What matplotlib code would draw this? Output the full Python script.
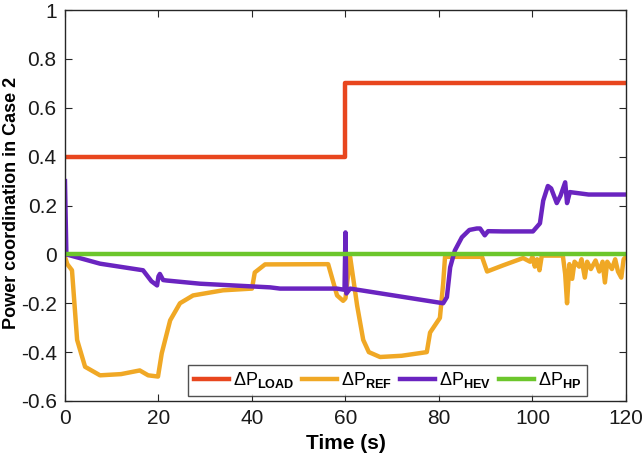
import numpy as np
import matplotlib.pyplot as plt

plt.rcParams['font.family'] = ['Liberation Sans', 'DejaVu Sans']
plt.rcParams['mathtext.fontset'] = 'custom'
plt.rcParams['mathtext.rm'] = 'Liberation Sans'
plt.rcParams['mathtext.bf'] = 'Liberation Sans:bold'

# Load step
t_load = [0, 60, 60, 120]
p_load = [0.4, 0.4, 0.7, 0.7]

# Heat pump stays at zero
t_hp = [0, 120]
p_hp = [0, 0]

# Refrigerator response
t_ref = [0, 0.5, 1.5, 2.6, 4.3, 7.5, 12, 16, 17.8, 19.9, 20.7, 22.5, 24.6, 27.4,
         33.8, 40, 40.6, 42.8, 56.3, 58.2, 59.5, 60, 61, 62.5, 63.8, 65, 67.4, 72,
         77.4, 78.1, 80.2, 80.9, 81.3, 89.2, 90.3, 93.7, 98, 99.5, 100, 100.5, 101,
         101.5, 102, 106.5, 107, 107.4, 107.9, 108.5, 109, 110, 110.5, 111.2,
         111.7, 112.5, 113.5, 114.3, 115, 115.5, 116, 117, 117.7, 118.3, 119,
         119.5, 120]
p_ref = [-0.01, -0.04, -0.065, -0.35, -0.46, -0.495, -0.49, -0.475, -0.495, -0.5,
         -0.405, -0.27, -0.2, -0.168, -0.147, -0.14, -0.074, -0.041, -0.04, -0.168,
         -0.19, -0.18, -0.01, -0.21, -0.35, -0.40, -0.42, -0.415, -0.40, -0.32,
         -0.26, -0.12, -0.01, -0.01, -0.07, -0.045, -0.015, -0.03, -0.01, -0.05,
         -0.02, -0.065, -0.005, -0.005, -0.08, -0.2, -0.04, -0.1, -0.03, -0.05,
         -0.02, -0.095, -0.03, -0.06, -0.025, -0.07, -0.03, -0.115, -0.03, -0.06,
         -0.02, -0.07, -0.095, -0.02, -0.01]

# Hybrid electric vehicle response
t_hev = [0, 0.3, 7.5, 16.7, 18.5, 19.7, 20, 20.3, 21, 21.8, 28.9, 43.9, 46, 58.2,
         59.8, 60, 60.2, 61, 80.9, 81.7, 82.4, 83.4, 84.9, 86.5, 88.1, 88.8, 89.8,
         90.5, 93.7, 100.1, 101.6, 102.3, 103.3, 104, 105.2, 106, 107, 107.4, 108,
         112, 120]
p_hev = [0.3, 0.0, -0.038, -0.065, -0.11, -0.127, -0.09, -0.08, -0.105, -0.107,
         -0.12, -0.135, -0.14, -0.14, -0.145, 0.09, -0.16, -0.14, -0.2, -0.175,
         -0.053, 0.016, 0.07, 0.1, 0.106, 0.106, 0.078, 0.095, 0.094, 0.094, 0.127,
         0.22, 0.28, 0.27, 0.21, 0.24, 0.295, 0.21, 0.255, 0.245, 0.245]

fig = plt.figure(figsize=(6.42, 4.58), dpi=100)
ax = fig.add_axes([0.1012, 0.1245, 0.8738, 0.8535])

lw = 3.2
ax.plot(t_load, p_load, color='#E8461E', lw=lw, label=r'$\Delta$P$_{\mathbf{LOAD}}$')
ax.plot(t_ref, p_ref, color='#F0A825', lw=lw, label=r'$\Delta$P$_{\mathbf{REF}}$')
ax.plot(t_hev, p_hev, color='#6A24C0', lw=lw, label=r'$\Delta$P$_{\mathbf{HEV}}$')
ax.plot(t_hp, p_hp, color='#6CC62C', lw=lw, label=r'$\Delta$P$_{\mathbf{HP}}$')

ax.set_xlim(0, 120)
ax.set_ylim(-0.6, 1)
ax.set_xticks(np.arange(0, 121, 20))
yt = [-0.6, -0.4, -0.2, 0, 0.2, 0.4, 0.6, 0.8, 1]
ax.set_yticks(yt)
ax.set_yticklabels(['-0.6', '-0.4', '-0.2', '0', '0.2', '0.4', '0.6', '0.8', '1'])
ax.tick_params(direction='in', top=True, right=True, labelsize=15, length=5,
               color='#262626', labelcolor='#1a1a1a', pad=6)
for s in ax.spines.values():
    s.set_color('#262626')
    s.set_linewidth(1)

ax.set_xlabel('Time (s)', fontsize=15, fontweight='bold', labelpad=4)
ax.set_ylabel('Power coordination in Case 2', fontsize=13, fontweight='bold')
ax.yaxis.set_label_coords(-0.08, 0.506)

leg = ax.legend(ncol=4, loc='lower right', bbox_to_anchor=(0.93, 0.014), fontsize=13,
                frameon=True, fancybox=False, edgecolor='#262626', handlelength=1.95,
                handletextpad=0.2, columnspacing=0.45, borderpad=0.3,
                borderaxespad=0)
leg.get_frame().set_linewidth(1)

fig.savefig('out.png', dpi=100)
